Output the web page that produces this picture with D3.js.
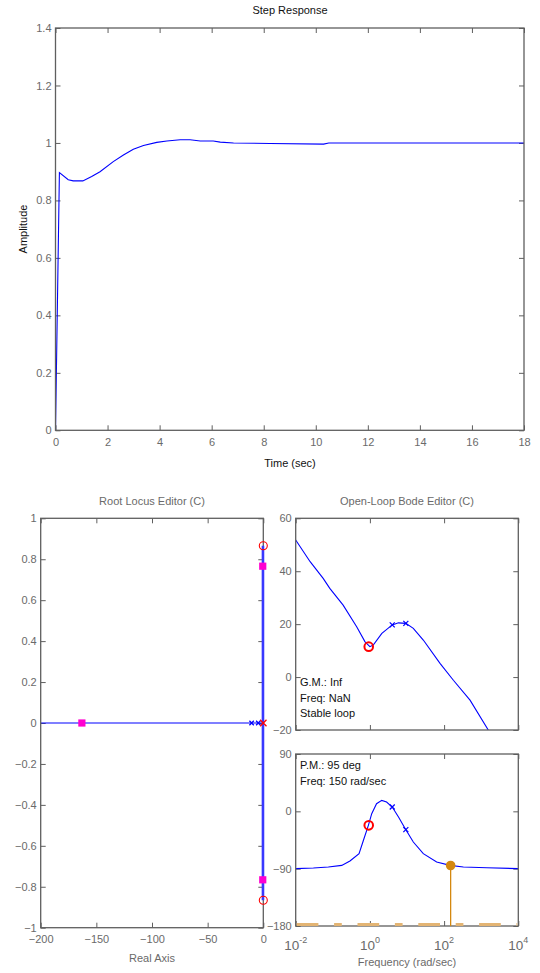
<!DOCTYPE html>
<html>
<head>
<meta charset="utf-8">
<script src="https://cdn.jsdelivr.net/npm/d3@7"></script>
<style>
  html, body { margin: 0; padding: 0; background: #fff; }
  svg { display: block; font-family: "Liberation Sans", Arial, sans-serif; }
</style>
</head>
<body>
<svg id="chart" width="540" height="973"></svg>
<script>
// ---- Step response ----
const stepTime = [0, 0.15, 0.49, 0.68, 1.05, 1.39, 1.71, 2.22, 2.61, 2.99, 3.38, 3.89, 4.28, 4.79, 5.17, 5.56, 6.06, 6.33, 6.84, 8.25, 10.3, 10.5, 18];
const stepAmp  = [0, 0.897, 0.872, 0.868, 0.868, 0.883, 0.900, 0.935, 0.958, 0.978, 0.991, 1.002, 1.007, 1.011, 1.011, 1.007, 1.007, 1.003, 1.000, 0.998, 0.996, 1.000, 1.000];
const stepXTicks = [0, 2, 4, 6, 8, 10, 12, 14, 16, 18];
const stepYTicks = [0, 0.2, 0.4, 0.6, 0.8, 1, 1.2, 1.4];

// ---- Root locus ----
const locusReal = [[-200, 0], [0, 0]];
const locusImag = [[-0.3, -0.866], [-0.3, 0.866]];
const closedLoopPoles = [[-163, 0], [-0.5, 0.766], [-0.5, -0.766]];
const compZeros = [[0, 0.866], [0, -0.866]];
const plantPoles = [[-10.5, 0], [-4.5, 0]];
const compPoles = [[0, 0]];
const rlXTicks = [-200, -150, -100, -50, 0];
const rlYTicks = [-1, -0.8, -0.6, -0.4, -0.2, 0, 0.2, 0.4, 0.6, 0.8, 1];

// ---- Open-loop Bode ----
const magFreq = [0.01, 0.0245, 0.055, 0.083, 0.19, 0.44, 0.74, 1.0, 1.23, 2.1, 4.0, 5.9, 9.3, 14.8, 27.5, 77.6, 178, 500, 1550];
const magDb   = [51.8, 43.6, 37.3, 33.5, 27.2, 19.0, 13.3, 11.5, 12.1, 16.5, 19.7, 20.5, 20.3, 18.4, 14.0, 5.2, -1.2, -8.7, -20];
const phaseFreq = [0.01, 0.03, 0.076, 0.174, 0.29, 0.51, 0.66, 0.91, 1.12, 1.51, 2.09, 2.82, 4.0, 5.9, 9.3, 14.8, 27.5, 63, 145, 331, 1410, 10000];
const phaseDeg  = [-90, -89, -87.4, -84.9, -78, -66.5, -46.6, -22, -3.7, 12, 17.2, 14.6, 6.8, -8.9, -28.8, -48.2, -66.5, -79.6, -84.8, -87.5, -88.5, -90];
const magZero = [[0.93, 11.5]];
const magPoles = [[4.0, 19.7], [9.3, 20.3]];
const phaseZero = [[0.93, -22]];
const phasePoles = [[4.0, 6.8], [9.3, -28.8]];
const pmFreq = 150, pmPhase = -85;
const bodeFreqTicks = [0.01, 1, 100, 10000];
const bodeFreqExp = ["-2", "0", "2", "4"];
const magTicks = [-20, 0, 20, 40, 60];
const phaseTicks = [-180, -90, 0, 90];
const marginText = ["G.M.: Inf", "Freq: NaN", "Stable loop"];
const pmText = ["P.M.: 95 deg", "Freq: 150 rad/sec"];

const svg = d3.select("#chart");
const AXIS = "#5f5f5f", LABEL = "#6a6a6a";
const FS = 11;

// Boxed axes with inward ticks on all four sides
function frame(id, x, y, xTicks, yTicks, opts) {
  const [x0, x1] = x.range(), [y1, y0] = y.range();
  const g = svg.append("g");
  svg.append("clipPath").attr("id", id)
    .append("rect").attr("x", x0).attr("y", y0).attr("width", x1 - x0).attr("height", y1 - y0);

  const bottom = d3.axisBottom(x).tickValues(xTicks).tickSize(-5).tickPadding(opts.xPad ?? 8)
    .tickFormat(opts.xFormat === null ? "" : (opts.xFormat || d3.format("")));
  const top = d3.axisTop(x).tickValues(xTicks).tickSize(-5).tickFormat("");
  const left = d3.axisLeft(y).tickValues(yTicks).tickSize(-5).tickPadding(4)
    .tickFormat(opts.yFormat || d3.format(""));
  const right = d3.axisRight(y).tickValues(yTicks).tickSize(-5).tickFormat("");

  [[bottom, `translate(0,${y1})`], [top, `translate(0,${y0})`],
   [left, `translate(${x0},0)`], [right, `translate(${x1},0)`]].forEach(([ax, tr]) => {
    const a = g.append("g").attr("transform", tr).call(ax);
    a.select(".domain").remove();
    a.selectAll("line").attr("stroke", AXIS).attr("stroke-width", 1);
    a.selectAll("text").attr("fill", LABEL).attr("font-size", FS)
      .attr("font-family", "'Liberation Sans', Arial, sans-serif");
  });
  return g;
}

function box(x, y) {
  const [x0, x1] = x.range(), [y1, y0] = y.range();
  svg.append("rect").attr("x", x0).attr("y", y0).attr("width", x1 - x0).attr("height", y1 - y0)
    .attr("fill", "none").attr("stroke", AXIS).attr("stroke-width", 1.3);
}

function xMarks(g, pts, x, y, size, color, sw) {
  pts.forEach(([a, b]) => {
    const cx = x(a), cy = y(b);
    g.append("path")
      .attr("d", `M${cx - size},${cy - size}L${cx + size},${cy + size}M${cx - size},${cy + size}L${cx + size},${cy - size}`)
      .attr("stroke", color).attr("stroke-width", sw).attr("fill", "none");
  });
}

// ================= Step Response =================
{
  const x = d3.scaleLinear().domain([0, 18]).range([55.5, 524]);
  const y = d3.scaleLinear().domain([0, 1.4]).range([430.3, 28]);
  frame("clipStep", x, y, stepXTicks, stepYTicks, {});
  const line = d3.line().x((d, i) => x(stepTime[i])).y(d => y(d));
  svg.append("path").datum(stepAmp).attr("d", line)
    .attr("clip-path", "url(#clipStep)")
    .attr("fill", "none").attr("stroke", "#0000ff").attr("stroke-width", 1.1);
  box(x, y);
  svg.append("text").attr("x", 290).attr("y", 14).attr("text-anchor", "middle")
    .attr("font-size", FS).attr("fill", "#111").text("Step Response");
  svg.append("text").attr("x", 290).attr("y", 467).attr("text-anchor", "middle")
    .attr("font-size", FS).attr("fill", "#111").text("Time (sec)");
  svg.append("text").attr("transform", "translate(27,229) rotate(-90)").attr("text-anchor", "middle")
    .attr("font-size", FS).attr("fill", "#111").text("Amplitude");
}

// ================= Root Locus =================
{
  const x = d3.scaleLinear().domain([-200, 0]).range([40.7, 263.3]);
  const y = d3.scaleLinear().domain([-1, 1]).range([927.7, 518.3]);
  frame("clipRL", x, y, rlXTicks, rlYTicks, {});
  const g = svg.append("g");
  const line = d3.line().x(d => x(d[0])).y(d => y(d[1]));
  g.append("path").datum(locusReal).attr("d", line)
    .attr("fill", "none").attr("stroke", "#0000ff").attr("stroke-width", 1.2);
  box(x, y);
  const gm = svg.append("g");
  gm.append("path").datum(locusImag).attr("d", line)
    .attr("fill", "none").attr("stroke", "#3838ff").attr("stroke-width", 2.6);
  xMarks(gm, plantPoles, x, y, 2.2, "#0000ff", 1.3);
  xMarks(gm, compPoles, x, y, 3.2, "#ff0000", 1.3);
  gm.selectAll("circle.z").data(compZeros).join("circle")
    .attr("cx", d => x(d[0])).attr("cy", d => y(d[1])).attr("r", 4)
    .attr("fill", "none").attr("stroke", "#ff0000").attr("stroke-width", 1.1);
  gm.selectAll("rect.p").data(closedLoopPoles).join("rect")
    .attr("x", d => x(d[0]) - 3.6).attr("y", d => y(d[1]) - 3.6)
    .attr("width", 7.2).attr("height", 7.2).attr("fill", "#ff00d0");
  svg.append("text").attr("x", 152).attr("y", 505).attr("text-anchor", "middle")
    .attr("font-size", FS).attr("fill", LABEL).text("Root Locus Editor (C)");
  svg.append("text").attr("x", 152).attr("y", 962).attr("text-anchor", "middle")
    .attr("font-size", FS).attr("fill", LABEL).text("Real Axis");
}

// ================= Bode magnitude =================
{
  const x = d3.scaleLog().domain([0.01, 10000]).range([295.7, 518.3]);
  const y = d3.scaleLinear().domain([-20, 60]).range([730, 518.3]);
  frame("clipMag", x, y, bodeFreqTicks, magTicks, { xFormat: null });
  const line = d3.line().x((d, i) => x(magFreq[i])).y(d => y(d));
  const g = svg.append("g").attr("clip-path", "url(#clipMag)");
  g.append("path").datum(magDb).attr("d", line)
    .attr("fill", "none").attr("stroke", "#0000ff").attr("stroke-width", 1.1);
  box(x, y);
  xMarks(svg, magPoles, x, y, 2.5, "#0000ff", 1.2);
  svg.selectAll("circle.mz").data(magZero).join("circle")
    .attr("cx", d => x(d[0])).attr("cy", d => y(d[1])).attr("r", 4.3)
    .attr("fill", "none").attr("stroke", "#ff0000").attr("stroke-width", 2);
  marginText.forEach((t, i) => {
    svg.append("text").attr("x", 300).attr("y", 686 + i * 15.5)
      .attr("font-size", FS).attr("fill", "#111").text(t);
  });
  svg.append("text").attr("x", 407).attr("y", 505).attr("text-anchor", "middle")
    .attr("font-size", FS).attr("fill", LABEL).text("Open-Loop Bode Editor (C)");
}

// ================= Bode phase =================
{
  const x = d3.scaleLog().domain([0.01, 10000]).range([295.7, 518.3]);
  const y = d3.scaleLinear().domain([-180, 90]).range([926, 754]);
  frame("clipPhase", x, y, bodeFreqTicks, phaseTicks, { xFormat: null });
  const line = d3.line().x((d, i) => x(phaseFreq[i])).y(d => y(d));
  const g = svg.append("g").attr("clip-path", "url(#clipPhase)");
  g.append("path").datum(phaseDeg).attr("d", line)
    .attr("fill", "none").attr("stroke", "#0000ff").attr("stroke-width", 1.1);
  box(x, y);
  // -180 reference line
  svg.append("line").attr("transform", "translate(0,-1.6)")
    .attr("x1", x(0.01) + 1).attr("x2", x(10000) - 1).attr("y1", y(-180)).attr("y2", y(-180))
    .attr("stroke", "#e3b473").attr("stroke-width", 3)
    .attr("stroke-dasharray", "21.7,15.7,7.7,15.7");
  // phase margin stem and marker
  svg.append("line").attr("x1", x(pmFreq)).attr("x2", x(pmFreq))
    .attr("y1", y(pmPhase)).attr("y2", y(-180))
    .attr("stroke", "#d4880f").attr("stroke-width", 1.3);
  svg.append("circle").attr("cx", x(pmFreq)).attr("cy", y(pmPhase)).attr("r", 4.8)
    .attr("fill", "#d4880f");
  xMarks(svg, phasePoles, x, y, 2.5, "#0000ff", 1.2);
  svg.selectAll("circle.pz").data(phaseZero).join("circle")
    .attr("cx", d => x(d[0])).attr("cy", d => y(d[1])).attr("r", 4.3)
    .attr("fill", "none").attr("stroke", "#ff0000").attr("stroke-width", 2);
  pmText.forEach((t, i) => {
    svg.append("text").attr("x", 300).attr("y", 769 + i * 16)
      .attr("font-size", FS).attr("fill", "#111").text(t);
  });
  // power-of-ten frequency labels
  bodeFreqTicks.forEach((f, i) => {
    const t = svg.append("text").attr("x", x(f)).attr("y", 950).attr("text-anchor", "middle")
      .attr("font-size", 13.5).attr("fill", LABEL);
    t.append("tspan").text("10");
    t.append("tspan").attr("dy", -7).attr("font-size", 9).text(bodeFreqExp[i]);
  });
  svg.append("text").attr("x", 407).attr("y", 966).attr("text-anchor", "middle")
    .attr("font-size", FS).attr("fill", LABEL).text("Frequency (rad/sec)");
}
</script>
</body>
</html>
